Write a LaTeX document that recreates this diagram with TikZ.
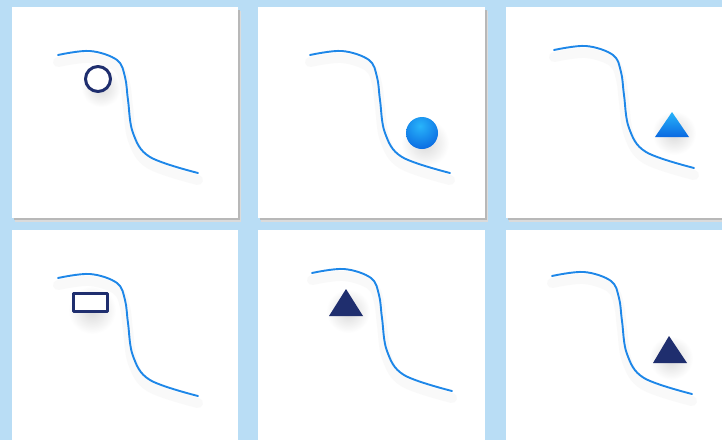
\documentclass[tikz,border=0pt]{standalone}
\usetikzlibrary{shadows}

\definecolor{skyback}{RGB}{185,221,245}
\definecolor{navy}{RGB}{31,46,110}
\definecolor{curveblue}{RGB}{30,135,232}
\definecolor{lightcyan}{RGB}{40,180,250}
\definecolor{deepblue}{RGB}{10,105,225}

\begin{document}
\begin{tikzpicture}[x=1pt,y=-1pt,line cap=round,line join=round,
  panel/.style={fill=white},
  panelshade/.style={fill=black!28},
  curve/.style={draw=curveblue,line width=1.9pt},
  curveshade/.style={draw=black!2.5,line width=10pt},
  markshade/.style={inner color=black!15,outer color=white}]
\useasboundingbox (0,0) rectangle (722,440);
\clip (0,0) rectangle (722,440);
\fill[skyback] (0,0) rectangle (722,440);
% panels
\fill[black!14] (15,11) rectangle (241,222);
\fill[panelshade] (14,10) rectangle (240,220);
\fill[panel] (12,7) rectangle (238,218);
\fill[black!14] (261,11) rectangle (488,222);
\fill[panelshade] (260,10) rectangle (487,220);
\fill[panel] (258,7) rectangle (485,218);
\fill[black!14] (509,11) rectangle (735,222);
\fill[panelshade] (508,10) rectangle (734,220);
\fill[panel] (506,7) rectangle (732,218);
\fill[panel] (12,230) rectangle (238,450);
\fill[panel] (258,230) rectangle (485,450);
\fill[panel] (506,230) rectangle (732,450);
% marker shades
\shade[markshade] (101,87) circle (20);
\shade[markshade] (425,143) circle (24);
\shade[markshade] (674,133) circle (22);
\shade[markshade] (92,310) circle (24);
\shade[markshade] (348,311) circle (22);
\shade[markshade] (671,358) circle (22);
% curves with soft shade
\foreach \px/\py in {58/55,310/55,554/50,58/278,312/273,552/276}{
  \begin{scope}[shift={(\px,\py+7)}]
    \draw[curveshade] plot[smooth,tension=0.6] coordinates {(0,0) (32,-4) (59,5) (67,22) (70,45) (75,78) (92,102) (140,118)};
  \end{scope}
  \begin{scope}[shift={(\px,\py)}]
    \draw[curve] plot[smooth,tension=0.6] coordinates {(0,0) (32,-4) (59,5) (67,22) (70,45) (75,78) (92,102) (140,118)};
  \end{scope}
}
% open ring
\draw[navy,line width=3pt,fill=white] (98,79) circle (12.5);
% blue sphere
\begin{scope}
  \clip (422,133) circle (16);
  \shade[inner color=lightcyan,outer color=deepblue] (420,126) circle (24);
\end{scope}
% blue triangle
\shade[top color=lightcyan,bottom color=deepblue] (672,112) -- (689,137) -- (655,137) -- cycle;
% open rectangle
\draw[navy,line width=3pt,fill=white] (73.5,293.5) rectangle (107.5,311.5);
% navy triangles
\fill[navy] (346,289) -- (363,316) -- (329,316) -- cycle;
\fill[navy] (669,336) -- (687,363) -- (653,363) -- cycle;
\end{tikzpicture}
\end{document}
